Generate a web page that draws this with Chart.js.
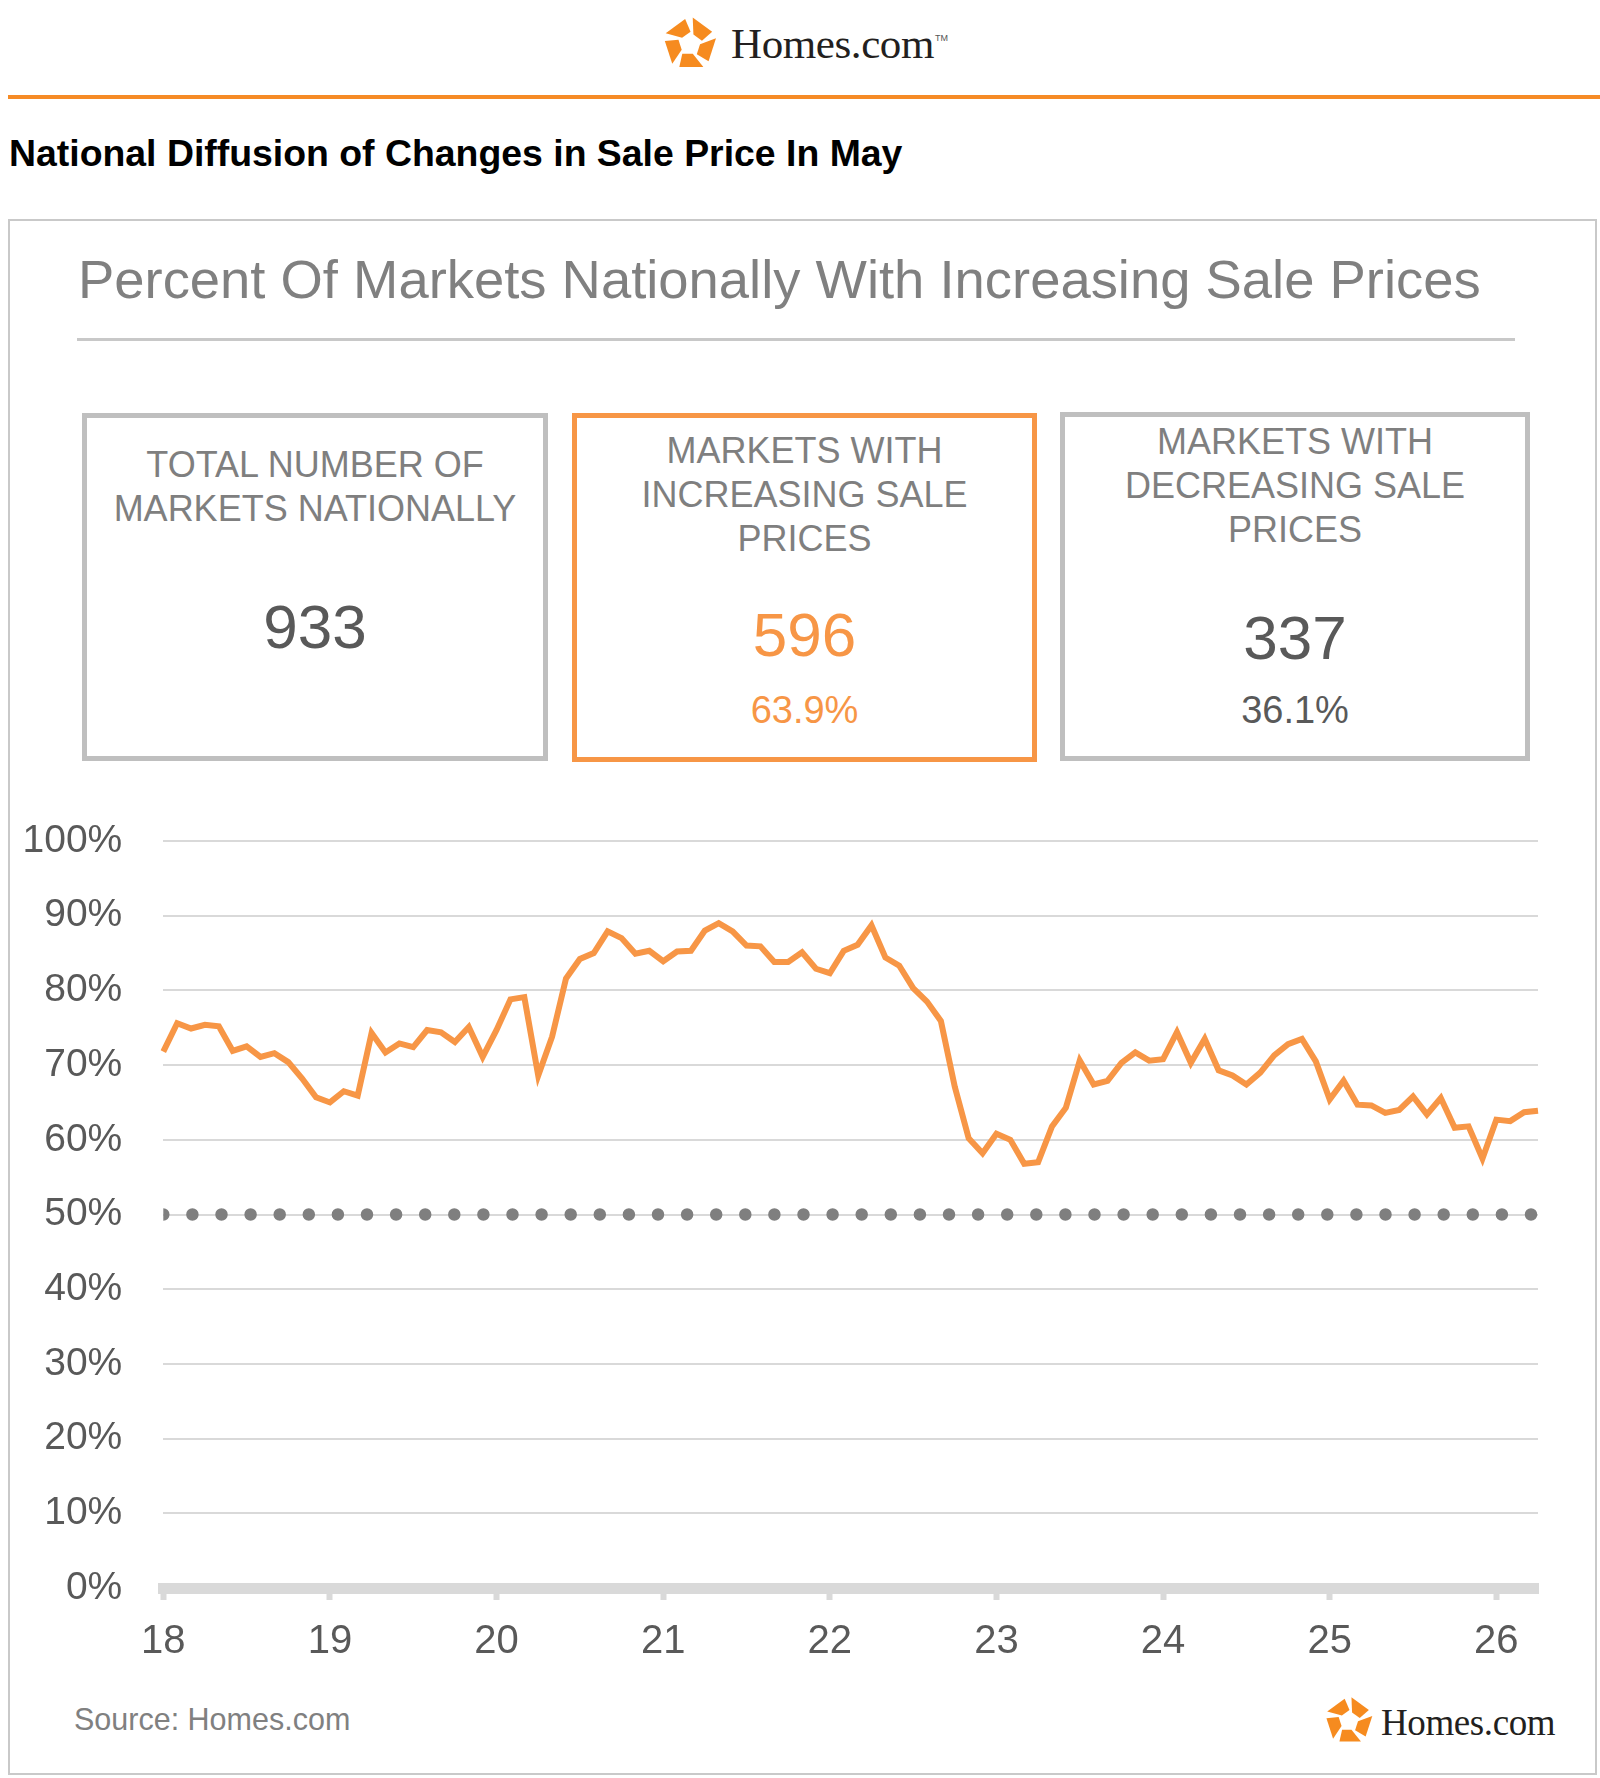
<!DOCTYPE html>
<html>
<head>
<meta charset="utf-8">
<script src="https://cdn.jsdelivr.net/npm/chart.js@4.4.1/dist/chart.umd.min.js"></script>
<style>
  html, body { margin:0; padding:0; background:#fff; }
  body { width:1600px; height:1778px; position:relative; overflow:hidden; font-family:"Liberation Sans", Arial, sans-serif; }
  .abs { position:absolute; white-space:nowrap; }
  .card { position:absolute; box-sizing:border-box; border:5px solid #bfbfbf; background:#fff; }
  .card.orange { border-color:#f79646; }
  .cl { position:absolute; left:0; right:0; text-align:center; white-space:nowrap; }
  .serif { font-family:"Liberation Serif", "Times New Roman", serif; color:#231f20; }
</style>
</head>
<body>

<!-- top logo -->
<svg class="abs" id="logoTop" style="left:661px; top:15px;" width="58" height="58" viewBox="-50 -50 100 100"></svg>
<div class="abs serif" style="left:731px; top:20px; font-size:43px; line-height:48px; letter-spacing:-0.4px;">Homes.com</div>
<div class="abs" style="left:935px; top:33px; font-size:9px; line-height:10px; color:#555;">TM</div>
<div class="abs" style="left:8px; top:95px; width:1592px; height:4px; background:#f68b26;"></div>

<!-- page title -->
<div class="abs" style="left:9px; top:130px; font-size:37.4px; line-height:46px; font-weight:bold; color:#000;">National Diffusion of Changes in Sale Price In May</div>

<!-- outer box -->
<div class="abs" style="left:8px; top:219px; width:1589px; height:1556px; box-sizing:border-box; border:2px solid #c9c9c9;"></div>

<div class="abs" style="left:78px; top:250px; font-size:54.4px; line-height:60px; color:#808080;">Percent Of Markets Nationally With Increasing Sale Prices</div>
<div class="abs" style="left:77px; top:338px; width:1438px; height:3px; background:#c8c8c8;"></div>

<!-- cards -->
<div class="card" style="left:82px; top:413px; width:466px; height:348px;">
  <div class="cl" style="top:25px; font-size:36px; line-height:44px; color:#7f7f7f;">TOTAL NUMBER OF<br>MARKETS NATIONALLY</div>
  <div class="cl" style="top:174px; font-size:62px; line-height:70px; color:#595959;" id="totalVal"></div>
</div>
<div class="card orange" style="left:572px; top:413px; width:465px; height:349px;">
  <div class="cl" style="top:11px; font-size:36px; line-height:44px; color:#7f7f7f;">MARKETS WITH<br>INCREASING SALE<br>PRICES</div>
  <div class="cl" style="top:182px; font-size:62px; line-height:70px; color:#f79646;" id="incVal"></div>
  <div class="cl" style="top:270px; font-size:38px; line-height:44px; color:#f79646;" id="incPct"></div>
</div>
<div class="card" style="left:1060px; top:412px; width:470px; height:349px;">
  <div class="cl" style="top:3px; font-size:36px; line-height:44px; color:#7f7f7f;">MARKETS WITH<br>DECREASING SALE<br>PRICES</div>
  <div class="cl" style="top:186px; font-size:62px; line-height:70px; color:#595959;" id="decVal"></div>
  <div class="cl" style="top:271px; font-size:38px; line-height:44px; color:#595959;" id="decPct"></div>
</div>

<!-- chart -->
<canvas id="c" class="abs" style="left:0; top:800px;" width="1600" height="880"></canvas>

<!-- footer -->
<div class="abs" style="left:74px; top:1700px; font-size:30.5px; line-height:38px; color:#808080;">Source: Homes.com</div>
<svg class="abs" id="logoBot" style="left:1323px; top:1695px;" width="52" height="52" viewBox="-50 -50 100 100"></svg>
<div class="abs serif" style="left:1381px; top:1702px; font-size:37px; line-height:42px; letter-spacing:-0.4px;">Homes.com</div>

<script>
// ---------------- data ----------------
const years = ["18","19","20","21","22","23","24","25","26"];   // x tick labels (January of each year)
const firstYear = 2018;
const monthCount = 100;  // Jan 2018 .. Apr 2026

// Percent of markets with increasing sale prices (monthly)
const pctIncreasing = [
  71.8, 75.6, 74.9, 75.4, 75.2, 71.9, 72.5, 71.1, 71.6, 70.4, 68.2, 65.7,   // 2018
  65.0, 66.5, 65.9, 74.3, 71.7, 72.9, 72.4, 74.7, 74.4, 73.1, 75.1, 71.1,   // 2019
  74.7, 78.8, 79.1, 68.6, 73.8, 81.6, 84.2, 85.0, 87.9, 87.0, 84.9, 85.3,   // 2020
  83.9, 85.2, 85.3, 88.0, 89.0, 87.9, 86.0, 85.9, 83.8, 83.8, 85.1, 82.9,   // 2021
  82.3, 85.3, 86.1, 88.7, 84.4, 83.3, 80.3, 78.5, 75.9, 67.1, 60.2, 58.2,   // 2022
  60.8, 60.0, 56.8, 57.0, 61.8, 64.3, 70.6, 67.4, 67.9, 70.3, 71.7, 70.6,   // 2023
  70.8, 74.4, 70.3, 73.5, 69.3, 68.6, 67.4, 69.0, 71.3, 72.8, 73.5, 70.5,   // 2024
  65.4, 67.9, 64.7, 64.6, 63.6, 64.0, 65.8, 63.4, 65.6, 61.6, 61.8, 57.5,   // 2025
  62.7, 62.5, 63.7, 63.9                                                   // 2026
];
const referenceLevel = 50;          // dotted 50% line
const yTicks = [0,10,20,30,40,50,60,70,80,90,100];

// card figures
const totalMarkets = 933;
const increasingMarkets = 596;
const decreasingMarkets = 337;
const increasingPct = "63.9%";
const decreasingPct = "36.1%";

// ---------------- cards ----------------
document.getElementById('totalVal').textContent = totalMarkets;
document.getElementById('incVal').textContent = increasingMarkets;
document.getElementById('incPct').textContent = increasingPct;
document.getElementById('decVal').textContent = decreasingMarkets;
document.getElementById('decPct').textContent = decreasingPct;

// ---------------- logos ----------------
function drawLogo(id) {
  const svg = document.getElementById(id);
  const R = 49, ri = 0.42;
  const V = k => { const a = (-90 + 72*k) * Math.PI/180; return [R*Math.cos(a), R*Math.sin(a)]; };
  const lerp = (p,q,t) => [p[0]+(q[0]-p[0])*t, p[1]+(q[1]-p[1])*t];
  let html = '';
  for (let k = 0; k < 5; k++) {
    const A0 = V(k-1), B0 = V(k);
    const Ai = [A0[0]*ri, A0[1]*ri], Bi = [B0[0]*ri, B0[1]*ri];
    const o1 = lerp(A0,B0,0.10), o2 = lerp(A0,B0,0.82);
    const i2 = lerp(Ai,Bi,1.05), i1 = lerp(Ai,Bi,0.30);
    const pts = [o1,o2,i2,i1].map(p => p[0].toFixed(1)+','+p[1].toFixed(1)).join(' ');
    html += '<polygon points="'+pts+'" fill="#f68b1f"/>';
  }
  svg.innerHTML = html;
}
drawLogo('logoTop');
drawLogo('logoBot');

// ---------------- chart ----------------
const labels = [];
for (let i = 0; i < monthCount; i++) {
  labels.push((firstYear + Math.floor(i/12)) + '-' + String(i % 12 + 1).padStart(2,'0'));
}
const isJan = i => i % 12 === 0;

const CANVAS_TOP = 800;
const AREA_LEFT = 163.3, AREA_RIGHT = 1538, AREA_TOP = 841 - CANVAS_TOP, AREA_BOTTOM = 1588 - CANVAS_TOP;
const tickFont = { family: '"Liberation Sans", Arial, sans-serif', size: 39 };

new Chart(document.getElementById('c'), {
  type: 'line',
  data: {
    labels: labels,
    datasets: [
      {
        data: pctIncreasing,
        borderColor: '#f79646',
        borderWidth: 6,
        pointRadius: 0,
        tension: 0,
        fill: false,
        order: 1
      },
      {
        data: labels.map(() => referenceLevel),
        borderColor: '#7f7f7f',
        borderWidth: 12.5,
        borderDash: [0, 29.1],
        borderCapStyle: 'round',
        pointRadius: 0,
        fill: false,
        clip: 0,
        order: 2
      }
    ]
  },
  options: {
    responsive: false,
    animation: false,
    devicePixelRatio: 1,
    layout: { padding: { left: 0, right: 1600 - AREA_RIGHT, top: AREA_TOP, bottom: 0 } },
    plugins: { legend: { display: false }, tooltip: { enabled: false } },
    scales: {
      x: {
        type: 'category',
        offset: false,
        grid: {
          display: true,
          drawOnChartArea: false,
          drawTicks: true,
          tickLength: 12,
          tickWidth: 6,
          tickColor: ctx => isJan(ctx.index) ? '#d9d9d9' : 'rgba(0,0,0,0)'
        },
        border: { display: true, color: '#d9d9d9', width: 11 },
        ticks: {
          autoSkip: false,
          maxRotation: 0,
          minRotation: 0,
          padding: 18,
          color: '#595959',
          font: { family: tickFont.family, size: 40 },
          callback: (v, i) => isJan(i) ? years[Math.floor(i/12)] : ''
        },
        afterFit: s => { s.height = 880 - AREA_BOTTOM; s.paddingLeft = 0; s.paddingRight = 0; }
      },
      y: {
        min: 0,
        max: 100,
        afterBuildTicks: s => { s.ticks = yTicks.map(v => ({ value: v })); },
        grid: { color: '#d9d9d9', lineWidth: 2, drawTicks: false },
        border: { display: false },
        ticks: {
          padding: 41,
          color: '#595959',
          font: tickFont,
          callback: v => v + '%'
        },
        afterFit: s => { s.width = AREA_LEFT; s.paddingTop = 0; s.paddingBottom = 0; }
      }
    }
  }
});
</script>
</body>
</html>
